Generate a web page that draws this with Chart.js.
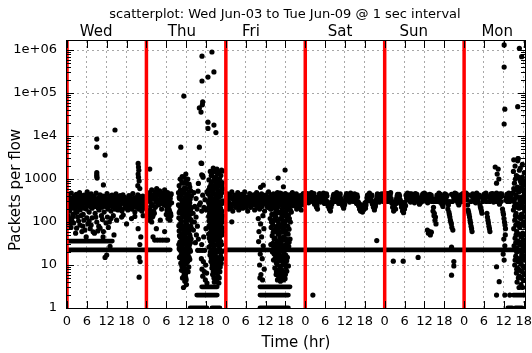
<!DOCTYPE html>
<html>
<head>
<meta charset="utf-8">
<script src="https://cdn.jsdelivr.net/npm/chart.js@4.4.1/dist/chart.umd.min.js"></script>
<style>
html,body{margin:0;padding:0;background:#fff;}
#wrap{width:532px;height:353px;}
</style>
</head>
<body>
<div id="wrap"><canvas id="c" width="532" height="353"></canvas></div>
<script>
// ---------------- DATA (hours since Wed 00:00, packets per flow) ----------------
const titleText = 'scatterplot: Wed Jun-03 to Tue Jun-09 @ 1 sec interval';
const dayNames = ['Wed', 'Thu', 'Fri', 'Sat', 'Sun', 'Mon'];
const dayStartHours = [0, 24, 48, 72, 96, 120];
const dayLabelHours = [8.8, 34.7, 55.6, 82.5, 104.8, 130];
const xTickHours = [0,6,12,18,24,30,36,42,48,54,60,66,72,78,84,90,96,102,108,114,120,126,132,138];
const xTickLabels = ['0','6','12','18','0','6','12','18','0','6','12','18','0','6','12','18','0','6','12','18','0','6','12','18'];
const yTickValues = [1, 10, 100, 1000, 10000, 100000, 1000000];
const yTickLabels = ['1', '10', '100', '1000', '1e4', '1e+05', '1e+06'];
const xMin = 0, xMax = 138.4, yMin = 1, yMax = 1.62e6;

// dense horizontal runs of points (drawn as solid runs)
const runs = [
  [[0,22.5],[31.2,22.5]],
  [[47.9,22.5],[138.4,22.5]],
  [[0,36],[13.7,36]],
  [[40.7,3.1],[45.4,3.1]],
  [[39.2,2.0],[45.4,2.0]],
  [[58.3,3.1],[67.4,3.1]],
  [[58.3,2.0],[66.9,2.0]],
  [[134.8,2.0],[138.4,2.0]],
  [[37.2,1],[42.3,1]],
  [[43.8,1],[46.2,1]],
  [[58.3,1],[66.9,1]],
  [[133.2,1],[134.5,1]],
  [[135.5,1],[137.5,1]]
];

const wedBand = [[0.3,420],[0.5,260],[0.8,180],[1.0,330],[1.3,470],[1.5,220],[1.8,150],[2.0,380],[2.2,290],[2.5,200],[2.8,440],[3.0,170],[3.3,320],[3.5,250],[3.8,480],[4.0,190],[4.3,360],[4.6,230],[4.9,150],[5.2,420],[5.5,280],[5.8,200],[6.1,500],[6.4,340],[6.7,170],[7.0,260],[7.3,450],[7.6,210],[7.9,380],[8.2,300],[8.5,160],[8.8,470],[9.1,240],[9.4,350],[9.7,190],[10.0,430],[10.3,280],[10.6,220],[10.9,400],[11.2,170],[11.5,330],[11.8,260],[12.1,460],[12.4,200],[12.7,360],[13.0,290],[13.3,180],[13.6,420],[13.9,240],[14.2,330],[14.5,200],[14.8,450],[15.1,280],[15.4,190],[15.7,390],[16.0,250],[16.3,320],[16.6,180],[16.9,430],[17.2,270],[17.5,210],[17.8,360],[18.1,300],[18.4,190],[18.7,410],[19.0,240],[19.3,330],[19.6,200],[19.9,460],[20.2,280],[20.5,170],[20.8,370],[21.1,250],[21.4,430],[21.7,200],[22.0,320],[22.3,270],[22.6,180],[22.9,400],[23.2,240],[23.5,350],[23.8,210]];
const wedBand2 = [[0.15,300],[0.45,380],[0.75,240],[1.05,200],[1.35,350],[1.65,280],[1.95,230],[2.25,400],[2.55,320],[2.85,260],[3.15,220],[3.45,380],[3.75,300],[4.05,250],[4.35,410],[4.65,330],[4.95,270],[5.25,210],[5.55,360],[5.85,300],[6.15,240],[6.45,420],[6.75,280],[7.05,350],[7.35,220],[7.65,310],[7.95,260],[8.25,400],[8.55,230],[8.85,320],[9.15,280],[9.45,210],[9.75,380],[10.05,250],[10.35,340],[10.65,300],[10.95,230],[11.25,390],[11.55,270],[11.85,350],[12.15,220],[12.45,300],[12.75,250],[13.05,400],[13.35,330],[13.65,230],[13.95,290],[14.25,380],[14.55,260],[14.85,220],[15.15,350],[15.45,300],[15.75,240],[16.05,410],[16.35,200],[16.65,330],[16.95,280],[17.25,380],[17.55,240],[17.85,300],[18.15,220],[18.45,350],[18.75,260],[19.05,400],[19.35,210],[19.65,300],[19.95,240],[20.25,360],[20.55,290],[20.85,220],[21.15,330],[21.45,260],[21.75,400],[22.05,230],[22.35,350],[22.65,290],[22.95,210],[23.25,380],[23.55,260],[23.85,320]];
const wedLow = [[0.5,120],[1.2,75],[1.4,110],[2.0,95],[2.4,160],[2.6,55],[2.9,72],[3.2,130],[3.9,85],[4.5,60],[5.1,110],[5.4,65],[5.8,45],[6.3,90],[7.0,70],[7.6,125],[7.9,59],[8.3,55],[9.0,100],[9.6,80],[10.0,72],[10.4,140],[10.9,45],[11.0,60],[11.8,95],[12.5,75],[13.0,27],[13.3,120],[14.2,50],[15.0,110],[16.5,130],[18.0,90],[19.5,120],[21.5,70],[22.3,45],[22.0,30],[21.8,15],[22.1,12],[11.5,15],[21.8,5.2],[12.0,17],[0.3,140],[0.9,95],[1.7,130],[3.5,105],[4.2,140],[4.8,80],[6.0,125],[6.7,105],[7.3,85],[8.7,130],[9.3,62],[10.7,115],[12.2,130],[12.8,100],[14.0,140],[17.0,145],[20.5,135],[23.0,140]];
const wedHigh = [[14.5,13800],[9.0,8500],[9.0,5500],[11.5,3600],[9.0,1400],[9.0,1250],[9.0,1150],[9.1,1050],[11.0,730],[21.5,2300],[21.6,1900],[21.7,1600],[21.5,1300],[21.6,1100],[21.8,900],[21.4,700],[22.0,600]];
const thuEarly = [[24.7,320],[25.0,480],[25.3,230],[25.6,560],[25.9,380],[26.2,180],[26.5,500],[26.8,290],[27.1,600],[27.4,420],[27.7,250],[28.0,530],[28.3,350],[28.6,200],[28.9,470],[29.2,300],[29.5,560],[29.8,400],[30.1,230],[30.4,480],[30.7,330],[31.0,180],[31.3,420],[31.6,280],[24.8,150],[25.2,120],[25.6,100],[26.0,140],[26.4,160],[30.0,150],[30.5,120],[30.9,130],[31.3,160],[28.2,110],[27.0,70],[29.5,60],[26.5,38],[27.3,38],[28.1,38],[28.9,38],[29.7,38],[30.4,38],[25.0,1700],[26.0,45]];
const thuEarly2 = [[24.9,380],[25.2,290],[25.5,420],[25.8,250],[26.1,350],[26.4,420],[26.7,220],[27.0,360],[27.3,280],[27.6,470],[27.9,320],[28.2,430],[28.5,270],[28.8,380],[29.1,450],[29.4,250],[29.7,330],[30.0,420],[30.3,280],[30.6,400],[30.9,250],[31.2,350],[31.5,450],[25.1,190],[25.4,170],[25.8,130],[30.2,190],[30.8,200],[31.1,110],[31.4,140],[24.9,110]];
const thuCol1 = [[34.8,1130],[35.9,1300],[36.5,1000],[33.9,700],[34.7,850],[35.5,620],[36.3,780],[37.1,650],[33.7,480],[34.5,420],[35.3,540],[36.1,450],[36.9,510],[37.6,400],[34.0,350],[34.8,300],[35.6,370],[36.4,290],[37.2,340],[33.7,250],[34.5,220],[35.3,260],[36.1,205],[36.9,240],[37.6,215],[34.1,180],[34.9,150],[35.7,170],[36.5,145],[37.3,185],[33.8,125],[34.6,105],[35.4,130],[36.2,110],[37.0,120],[37.7,100],[34.2,88],[35.0,75],[35.8,85],[36.6,72],[37.4,80],[33.9,62],[34.7,52],[35.5,60],[36.3,55],[37.1,50],[34.3,44],[35.1,38],[35.9,42],[36.7,36],[37.5,40],[33.8,30],[34.6,27],[35.4,31],[36.2,26],[37.0,29],[34.2,22],[35.0,19],[35.8,22],[36.6,18],[37.3,21],[34.0,15],[34.8,13],[35.6,16],[36.4,14],[37.1,13.5],[34.4,11],[35.2,9.5],[36.0,10.5],[36.8,9],[34.6,7.5],[35.4,6.5],[36.2,7.8],[35.8,6],[34.9,5],[35.6,4.2],[36.1,3.5],[35.2,3]];
const thuCol1b = [[34.2,1000],[35.1,800],[36.0,900],[36.9,760],[34.3,560],[35.1,470],[35.9,600],[36.7,420],[37.4,530],[33.9,380],[34.7,330],[35.5,300],[36.3,360],[37.1,280],[34.1,230],[34.9,270],[35.7,215],[36.5,250],[37.3,200],[33.9,165],[34.7,190],[35.5,155],[36.3,175],[37.1,150],[37.6,160],[34.3,115],[35.1,140],[35.9,105],[36.7,130],[37.5,112],[34.5,95],[35.3,80],[36.1,92],[36.9,78],[33.8,82],[34.4,68],[35.2,56],[36.0,66],[36.8,58],[37.6,70],[34.0,48],[34.8,40],[35.6,47],[36.4,41],[37.2,45],[34.1,34],[34.9,31],[35.7,35],[36.5,29],[37.3,33],[33.9,24],[34.7,20],[35.5,24],[36.3,20],[37.1,23],[34.5,17],[35.3,14],[36.1,17.5],[36.9,15],[34.9,12],[35.7,11.5],[36.5,12],[35.0,8.5],[35.8,8],[36.6,7],[35.3,5.5],[35.9,5],[34.7,9.5],[36.0,4.5]];
const thuMid = [[38.3,480],[39.0,350],[39.6,520],[40.3,280],[41.0,420],[41.7,330],[42.3,500],[38.6,230],[39.3,200],[40.0,250],[40.7,180],[41.4,220],[42.1,190],[38.1,160],[39.0,130],[38.5,100],[39.4,80],[38.2,65],[39.1,50],[39.7,40],[38.8,33],[40.2,22],[40.9,22],[41.6,22],[39.5,22],[40.6,14],[41.2,12],[41.9,10],[40.8,8],[41.5,7],[42.2,6.5],[41.0,5.5],[41.8,4.5],[42.3,3.8],[40.7,30],[41.3,45],[42.0,70],[40.7,1250],[39.7,790],[40.7,2300],[41.1,1100]];
const thuCol2 = [[43.3,1500],[44.7,1500],[46.7,1620],[45.5,1300],[42.9,950],[43.7,850],[44.5,1050],[45.3,900],[46.1,1000],[46.9,820],[43.1,650],[43.9,600],[44.7,700],[45.5,560],[46.3,680],[47.0,600],[42.7,450],[43.5,400],[44.3,480],[45.1,420],[45.9,380],[46.7,470],[43.0,320],[43.8,280],[44.6,340],[45.4,300],[46.2,260],[47.0,310],[42.8,220],[43.6,190],[44.4,240],[45.2,200],[46.0,230],[46.8,180],[43.1,160],[43.9,135],[44.7,150],[45.5,125],[46.3,155],[47.0,140],[42.9,105],[43.7,90],[44.5,110],[45.3,95],[46.1,85],[46.9,100],[43.2,75],[44.0,62],[44.8,72],[45.6,65],[46.4,78],[47.0,60],[42.8,52],[43.6,45],[44.4,55],[45.2,48],[46.0,42],[46.8,50],[43.3,36],[44.1,31],[44.9,38],[45.7,33],[46.5,35],[42.9,26],[43.7,22],[44.5,25],[45.3,20],[46.1,24],[46.9,21],[43.2,17],[44.0,15],[44.8,18],[45.6,14],[46.4,16],[43.5,12],[44.3,10.5],[45.1,12.5],[45.9,10],[46.6,11],[43.8,8.5],[44.6,7.5],[45.4,9],[46.2,7],[44.0,6],[44.8,5],[45.6,5.5],[45.2,4.5],[44.5,4],[45.9,3.8]];
const thuCol2b = [[43.6,1200],[44.2,1800],[45.0,1100],[45.9,1400],[46.5,1200],[43.5,750],[44.3,900],[45.1,780],[45.9,820],[46.7,700],[42.8,560],[43.6,520],[44.4,600],[45.2,640],[46.0,520],[46.8,560],[43.2,380],[44.0,440],[44.8,360],[45.6,460],[46.4,400],[42.8,280],[43.6,340],[44.4,290],[45.2,350],[46.0,300],[46.8,270],[43.2,240],[44.0,215],[44.8,200],[45.6,250],[46.4,210],[43.4,175],[44.2,170],[45.0,160],[45.8,180],[46.6,165],[42.8,135],[43.6,120],[44.4,125],[45.2,140],[46.0,130],[46.8,120],[43.3,95],[44.1,100],[44.9,88],[45.7,105],[46.5,92],[42.9,80],[43.7,68],[44.5,80],[45.3,72],[46.1,66],[46.9,74],[43.4,58],[44.2,50],[45.0,60],[45.8,55],[46.6,58],[43.0,42],[43.8,38],[44.6,44],[45.4,40],[46.2,46],[43.5,29],[44.3,27],[45.1,30],[45.9,28],[46.7,30],[43.3,20],[44.1,19],[44.9,22],[45.7,21],[46.5,19.5],[43.6,14.5],[44.4,13.5],[45.2,15],[46.0,13],[46.8,14],[43.9,10],[44.7,9.5],[45.5,11],[46.3,9],[44.2,7],[45.0,6.5],[45.8,7.5],[44.4,5],[45.3,4],[46.0,5]];
const thuHigh = [[43.8,900000],[40.8,720000],[44.4,310000],[42.6,235000],[40.8,190000],[35.3,85000],[41.0,62000],[40.9,53000],[40.0,45000],[40.5,36000],[42.6,21000],[44.4,18000],[42.6,15000],[45.0,12000],[34.4,5500],[40.0,5500],[40.5,2350],[45.3,1700],[43.8,1450],[47.0,1530],[41.0,1200],[35.3,1100],[43.8,1250]];
const friBand = [[48.3,300],[48.6,450],[48.9,200],[49.2,380],[49.5,250],[49.8,500],[50.1,180],[50.4,340],[50.7,420],[51.0,220],[51.3,300],[51.6,480],[51.9,190],[52.2,360],[52.5,260],[52.8,440],[53.1,210],[53.4,320],[53.7,500],[54.0,240],[54.3,380],[54.6,180],[54.9,300],[55.2,460],[55.5,220],[55.8,350],[56.1,270],[56.4,430],[56.7,190],[57.0,330],[57.3,480],[57.6,240],[57.9,390],[58.2,200],[58.5,310],[58.8,450],[59.1,260],[59.4,370],[59.7,180],[60.0,420],[60.3,290],[60.6,220],[60.9,500],[61.2,340],[61.5,200],[61.8,400],[62.1,270],[62.4,450],[62.7,230],[63.0,360],[63.3,190],[63.6,480],[63.9,300],[64.2,250],[64.5,420],[64.8,330],[65.1,200],[65.4,390],[65.7,280],[66.0,460],[66.3,220],[66.6,350],[66.9,260],[67.2,430],[67.5,190],[67.8,320],[68.1,480],[68.4,240],[68.7,380],[69.0,300],[69.3,450],[69.6,220],[69.9,340],[70.2,260],[70.5,410],[70.8,190],[71.1,310],[71.4,460],[71.7,250]];
const friBand2 = [[48.15,380],[48.45,240],[48.75,330],[49.05,280],[49.35,420],[49.65,220],[49.95,350],[50.25,260],[50.55,300],[50.85,390],[51.15,240],[51.45,330],[51.75,270],[52.05,410],[52.35,230],[52.65,310],[52.95,360],[53.25,260],[53.55,400],[53.85,300],[54.15,220],[54.45,340],[54.75,260],[55.05,380],[55.35,300],[55.65,240],[55.95,410],[56.25,330],[56.55,250],[56.85,380],[57.15,280],[57.45,220],[57.75,320],[58.05,420],[58.35,260],[58.65,350],[58.95,230],[59.25,300],[59.55,400],[59.85,270],[60.15,340],[60.45,240],[60.75,380],[61.05,260],[61.35,320],[61.65,430],[61.95,230],[62.25,350],[62.55,280],[62.85,400],[63.15,250],[63.45,330],[63.75,230],[64.05,390],[64.35,300],[64.65,260],[64.95,410],[65.25,280],[65.55,340],[65.85,230],[66.15,370],[66.45,290],[66.75,410],[67.05,240],[67.35,300],[67.65,380],[67.95,250],[68.25,340],[68.55,280],[68.85,420],[69.15,240],[69.45,330],[69.75,270],[70.05,390],[70.35,230],[70.65,320],[70.95,400],[71.25,260],[71.55,350],[71.85,300]];
const friCluster = [[57.8,120],[58.5,90],[59.2,140],[58.0,60],[59.5,70],[58.8,45],[57.9,35],[59.3,28],[58.4,18],[59.0,14],[58.2,10],[59.6,8],[58.6,6],[59.1,4.5],[58.3,5],[61.5,400],[62.5,300],[63.5,450],[64.5,350],[65.5,280],[66.5,420],[67.5,330],[61.8,200],[62.8,160],[63.8,230],[64.8,180],[65.8,140],[66.8,210],[67.8,170],[61.4,120],[62.2,100],[63.1,130],[64.0,90],[64.9,115],[65.8,95],[66.7,125],[67.5,100],[61.7,75],[62.6,65],[63.5,80],[64.4,60],[65.3,70],[66.2,55],[67.1,68],[62.0,48],[62.9,42],[63.8,52],[64.7,38],[65.6,45],[66.5,35],[67.4,40],[61.6,30],[62.5,26],[63.4,32],[64.3,28],[65.2,24],[66.1,30],[67.0,27],[62.1,20],[63.0,17],[63.9,19],[64.8,16],[65.7,18],[66.6,15],[62.4,13],[63.3,11],[64.2,12.5],[65.1,10],[66.0,11.5],[66.9,9.5],[62.8,8.5],[63.7,7.5],[64.6,8],[65.5,6.8],[66.4,7.2],[63.2,6],[64.1,5.2],[65.0,5.6],[65.9,4.8],[64.5,4.2],[63.6,4.5],[58.5,640],[59.3,720],[63.8,1050],[65.9,1620],[65.4,660],[64.4,470],[69.4,200],[49.8,101]];
const friCluster2 = [[61.9,350],[62.9,400],[63.9,320],[64.9,450],[65.9,380],[66.9,300],[62.3,250],[63.3,200],[64.3,260],[65.3,220],[66.3,180],[67.3,240],[61.9,150],[62.9,140],[63.9,165],[64.9,150],[65.9,170],[66.9,145],[61.8,100],[62.7,115],[63.6,105],[64.5,120],[65.4,100],[66.3,110],[67.2,120],[62.2,85],[63.1,70],[64.0,75],[64.9,85],[65.8,78],[66.7,80],[62.3,58],[63.2,60],[64.1,55],[65.0,58],[65.9,62],[66.8,52],[62.6,40],[63.5,36],[64.4,44],[65.3,38],[66.2,40],[67.1,34],[62.2,32],[63.0,28],[63.9,24],[64.7,32],[65.6,28],[66.5,24],[62.6,18],[63.5,21],[64.3,17],[65.2,21],[66.1,17],[62.9,14],[63.8,15],[64.7,13],[65.6,14],[66.4,12.5],[63.6,10],[64.4,9],[65.3,12],[66.2,9],[63.3,7],[64.2,6.5],[65.1,7.5],[66.0,6],[64.0,4.8],[64.8,5],[65.4,4.5]];
const satBand = [[72.4,350],[72.7,460],[73.0,280],[73.3,410],[73.6,330],[73.9,480],[74.2,300],[74.5,420],[74.8,260],[75.1,380],[75.4,220],[75.7,200],[76.0,340],[76.3,460],[76.6,290],[76.9,400],[77.2,320],[77.5,470],[77.8,270],[78.1,380],[78.4,450],[78.7,300],[79.0,230],[79.3,200],[79.6,180],[80.0,260],[80.3,350],[80.6,440],[80.9,300],[81.2,400],[81.5,480],[81.8,330],[82.1,270],[82.4,420],[82.7,360],[83.0,300],[83.3,240],[83.6,210],[83.9,260],[84.2,380],[84.5,460],[84.8,320],[85.1,410],[85.4,290],[85.7,470],[86.0,350],[86.3,400],[86.6,300],[86.9,450],[87.2,330],[87.5,270],[87.8,380],[88.1,240],[88.4,200],[88.7,180],[89.0,220],[89.3,170],[89.6,190],[89.9,250],[90.2,210],[90.5,300],[90.8,420],[91.1,350],[91.4,470],[91.7,310],[92.0,400],[92.3,260],[92.6,220],[92.9,190],[93.2,240],[93.5,330],[93.8,450],[94.1,380],[94.4,290],[94.7,440],[95.0,340],[95.3,400],[95.6,300],[95.9,460]];
const satBand2 = [[72.25,300],[72.55,400],[72.85,350],[73.15,300],[73.45,440],[73.75,360],[74.05,400],[74.35,330],[74.65,460],[74.95,320],[75.25,280],[75.55,240],[75.85,300],[76.15,400],[76.45,350],[76.75,440],[77.05,370],[77.35,300],[77.65,420],[77.95,340],[78.25,300],[78.55,400],[78.85,260],[79.15,230],[79.45,240],[79.75,220],[80.15,300],[80.45,400],[80.75,360],[81.05,440],[81.35,350],[81.65,400],[81.95,300],[82.25,360],[82.55,450],[82.85,330],[83.15,280],[83.45,260],[83.75,240],[84.05,320],[84.35,420],[84.65,380],[84.95,440],[85.25,350],[85.55,400],[85.85,320],[86.15,440],[86.45,350],[86.75,390],[87.05,420],[87.35,300],[87.65,430],[87.95,300],[88.25,270],[88.55,230],[88.85,250],[89.15,200],[89.45,230],[89.75,210],[90.05,280],[90.35,250],[90.65,360],[90.95,400],[91.25,440],[91.55,380],[91.85,350],[92.15,420],[92.45,300],[92.75,260],[93.05,220],[93.35,280],[93.65,380],[93.95,420],[94.25,330],[94.55,400],[94.85,380],[95.15,450],[95.45,360],[95.75,420]];
const sunBand = [[96.3,380],[96.6,460],[96.9,300],[97.2,420],[97.5,340],[97.8,480],[98.1,280],[98.4,220],[98.7,180],[99.0,250],[99.3,200],[99.6,350],[99.9,440],[100.2,310],[100.5,400],[100.8,270],[101.1,220],[101.4,180],[101.7,165],[102.0,200],[102.3,240],[102.6,360],[102.9,470],[103.2,330],[103.5,410],[103.8,290],[104.1,450],[104.4,350],[104.7,400],[105.0,280],[105.3,460],[105.6,330],[105.9,380],[106.2,300],[106.5,260],[106.8,280],[107.1,320],[107.4,420],[107.7,350],[108.0,470],[108.3,310],[108.6,400],[108.9,65],[109.2,55],[109.5,60],[109.8,50],[110.1,58],[109.0,280],[109.6,440],[110.2,360],[110.6,180],[110.9,140],[111.2,110],[111.5,90],[111.1,300],[111.8,420],[112.1,330],[112.4,470],[112.7,290],[113.0,380],[113.3,260],[113.6,230],[113.9,300],[114.2,450],[114.5,350],[114.8,400],[115.1,200],[115.4,170],[115.7,130],[116.0,100],[116.3,75],[116.6,65],[115.6,300],[116.2,440],[116.9,360],[117.2,470],[117.5,320],[117.8,400],[118.1,280],[118.4,250],[118.7,300],[119.0,430],[119.3,350],[119.6,460],[119.9,330]];
const sunBand2 = [[96.15,320],[96.45,400],[96.75,360],[97.05,460],[97.35,380],[97.65,420],[97.95,350],[98.25,300],[98.55,250],[98.85,210],[99.15,300],[99.45,270],[99.75,400],[100.05,360],[100.35,440],[100.65,330],[100.95,300],[101.25,240],[101.55,200],[101.85,230],[102.15,290],[102.45,420],[102.75,380],[103.05,440],[103.35,360],[103.65,450],[103.95,380],[104.25,420],[104.55,300],[104.85,440],[105.15,360],[105.45,400],[105.75,440],[106.05,340],[106.35,300],[106.65,320],[106.95,370],[107.25,300],[107.55,450],[107.85,400],[108.15,380],[108.45,440],[108.75,330],[109.05,400],[109.35,300],[109.75,350],[110.05,420],[110.35,300],[110.75,220],[111.0,160],[111.35,130],[111.65,360],[111.95,300],[112.25,400],[112.55,370],[112.85,440],[113.15,330],[113.45,300],[113.75,270],[114.05,360],[114.35,400],[114.65,430],[114.95,300],[115.25,250],[115.55,150],[115.85,110],[116.15,90],[116.45,300],[116.75,400],[117.05,420],[117.35,380],[117.65,450],[117.95,350],[118.25,320],[118.55,280],[118.85,360],[119.15,400],[119.45,300],[119.75,420]];
const monBand = [[120.3,400],[120.6,470],[120.9,330],[121.2,190],[121.5,150],[121.8,110],[122.1,80],[122.4,60],[121.4,420],[122.0,300],[122.6,450],[122.9,350],[123.2,400],[123.5,280],[123.8,470],[124.1,340],[124.4,390],[124.8,250],[125.1,200],[125.4,160],[125.7,300],[126.0,440],[126.3,360],[126.6,470],[126.9,160],[127.2,110],[127.5,80],[127.8,60],[127.1,380],[127.7,300],[128.0,420],[128.3,330],[128.6,460],[128.9,290],[129.2,400],[129.5,350],[129.8,470],[130.1,300],[130.4,420],[130.7,260],[131.0,380],[131.3,450],[131.6,200],[131.9,150],[132.2,100],[132.5,70],[132.0,40],[132.3,28],[131.8,18],[132.1,13],[132.6,320],[132.9,440],[133.2,350],[133.5,470],[133.8,300],[134.1,400],[129.4,1900],[130.0,1300],[130.5,1000],[129.8,800],[129.8,9.1],[130.6,4.1],[129.8,2],[132.3,2],[133.8,2]];
const monBand2 = [[120.15,330],[120.45,400],[120.75,440],[121.05,250],[121.35,170],[121.65,130],[121.95,95],[122.25,70],[122.55,380],[122.85,420],[123.05,300],[123.35,440],[123.65,360],[123.95,400],[124.25,300],[124.55,420],[124.95,220],[125.25,180],[125.55,360],[125.85,400],[126.15,330],[126.45,410],[126.75,300],[127.05,130],[127.35,95],[127.65,70],[127.95,360],[128.15,450],[128.45,380],[128.75,410],[129.05,340],[129.35,440],[129.65,300],[129.95,400],[130.25,370],[130.55,330],[130.85,450],[131.15,300],[131.45,400],[131.75,170],[132.05,120],[132.35,85],[132.45,50],[132.8,380],[133.1,300],[133.4,400],[133.7,360],[134.0,450],[134.3,330]];
const monCol = [[135.0,2800],[136.3,3000],[137.6,2200],[134.9,1500],[135.8,1200],[136.7,1600],[137.6,1100],[138.2,1400],[135.2,800],[136.1,650],[137.0,900],[137.9,700],[134.8,480],[135.6,420],[136.5,500],[137.4,380],[138.2,450],[135.1,300],[136.0,260],[136.9,320],[137.8,280],[134.9,190],[135.7,160],[136.6,210],[137.5,150],[138.3,180],[135.3,110],[136.2,95],[137.1,120],[138.0,100],[135.0,70],[135.9,60],[136.8,75],[137.7,55],[135.4,42],[136.3,36],[137.2,45],[138.1,38],[135.1,28],[136.0,25],[136.9,30],[137.8,26],[135.6,16],[136.5,14],[137.4,17],[138.2,13],[135.3,10],[136.2,8.5],[137.1,11],[138.0,9],[135.8,6.5],[136.7,5.5],[137.6,7],[136.0,4],[137.2,3.5],[137.9,4.5]];
const monCol2 = [[135.4,2000],[137.0,1800],[135.5,1000],[136.4,1100],[137.3,800],[138.2,900],[135.0,600],[136.0,550],[136.9,620],[137.8,560],[135.4,350],[136.3,380],[137.2,300],[138.1,340],[135.2,230],[136.1,220],[137.0,240],[137.9,220],[135.5,140],[136.4,130],[137.3,150],[138.2,130],[135.6,85],[136.5,85],[137.4,90],[138.3,80],[135.7,50],[136.6,52],[137.5,48],[138.3,50],[135.6,33],[136.5,32],[137.4,34],[138.3,30],[135.9,20],[136.8,21],[137.7,20],[135.4,13],[136.3,12],[137.2,14],[138.1,16],[135.9,8],[136.8,7.5],[137.7,9.5],[136.4,5],[137.3,5],[138.2,6],[136.6,3],[137.7,3]];
const monHigh = [[132.1,1310000],[136.7,1100000],[137.4,700000],[132.1,400000],[132.3,42000],[136.2,48000],[132.1,19000],[136.3,3000],[136.2,2650],[130.3,1700]];
const misc = [[74.3,2],[93.6,37],[98.6,12.3],[101.6,12.3],[106.1,15],[116.2,26],[116.9,12],[116.9,9.5],[116.2,5.8]];

const pointGroups = [wedBand, wedBand2, wedLow, wedHigh, thuEarly, thuEarly2, thuCol1, thuCol1b, thuMid, thuCol2, thuCol2b, thuHigh, friBand, friBand2, friCluster, friCluster2, satBand, satBand2, sunBand, sunBand2, monBand, monBand2, monCol, monCol2, monHigh, misc];

// ---------------- CHART ----------------
Chart.defaults.font.family = '"DejaVu Sans", sans-serif';
Chart.defaults.color = '#000';

const toXY = arr => arr.map(p => ({x: p[0], y: p[1]}));
const datasets = [];
pointGroups.forEach(g => datasets.push({
  data: toXY(g), showLine: false, pointRadius: 2.6, pointHoverRadius: 2.6,
  pointBackgroundColor: '#000', pointBorderWidth: 0, clip: 0, order: 1
}));
runs.forEach(r => datasets.push({
  data: toXY(r), showLine: true, borderColor: '#000', borderWidth: 4.8,
  borderCapStyle: 'round', pointRadius: 0, fill: false, clip: 0, order: 1
}));
dayStartHours.forEach(h => datasets.push({
  data: [{x: h, y: yMin}, {x: h, y: yMax}], showLine: true, borderColor: '#ff0000',
  borderWidth: 3.5, pointRadius: 0, fill: false, clip: 0, order: -1
}));

const gridColor = '#a8a8a8';

const framePlugin = {
  id: 'frame',
  afterDatasetsDraw(chart) {
    const {ctx, chartArea: a, scales: {x, y}} = chart;
    ctx.save();
    ctx.strokeStyle = '#000';
    ctx.lineWidth = 1;
    ctx.beginPath();
    xTickHours.forEach(h => {
      const px = Math.round(x.getPixelForValue(h)) + 0.5;
      ctx.moveTo(px, a.bottom); ctx.lineTo(px, a.bottom - 7);
      ctx.moveTo(px, a.top); ctx.lineTo(px, a.top + 7);
    });
    yTickValues.forEach(d => {
      for (let k = 1; k <= 9; k++) {
        const v = k * d;
        if (v > yMax) break;
        const py = Math.round(y.getPixelForValue(v)) + 0.5;
        const len = k === 1 ? 7 : 4;
        ctx.moveTo(a.left, py); ctx.lineTo(a.left + len, py);
        ctx.moveTo(a.right, py); ctx.lineTo(a.right - len, py);
      }
    });
    ctx.stroke();
    ctx.strokeRect(a.left - 0.5, a.top - 0.5, a.right - a.left + 1, a.bottom - a.top + 1);
    ctx.restore();
  },
  afterDraw(chart) {
    const {ctx, scales: {x}} = chart;
    ctx.save();
    ctx.fillStyle = '#000';
    ctx.textAlign = 'center';
    ctx.textBaseline = 'alphabetic';
    ctx.font = '13px "DejaVu Sans"';
    ctx.fillText(titleText, 285, 18);
    ctx.font = '15px "DejaVu Sans"';
    dayNames.forEach((d, i) => ctx.fillText(d, x.getPixelForValue(dayLabelHours[i]), 36));
    ctx.translate(20, 190);
    ctx.rotate(-Math.PI / 2);
    ctx.fillText('Packets per flow', 0, 0);
    ctx.restore();
  }
};

new Chart(document.getElementById('c'), {
  type: 'scatter',
  data: {datasets},
  options: {
    responsive: false,
    devicePixelRatio: 1,
    animation: false,
    events: [],
    layout: {padding: {left: 0, right: 7, top: 41, bottom: 0}},
    plugins: {legend: {display: false}, tooltip: {enabled: false}, title: {display: false}},
    scales: {
      x: {
        type: 'linear', min: xMin, max: xMax, bounds: 'data',
        afterBuildTicks: s => { s.ticks = xTickHours.map(v => ({value: v})); },
        ticks: {callback: (v, i) => xTickLabels[i], autoSkip: false, maxRotation: 0, minRotation: 0,
                font: {size: 13}, color: '#000', padding: 6},
        grid: {color: gridColor, lineWidth: 1, drawTicks: false},
        border: {display: false, dash: [2, 3]},
        title: {display: true, text: 'Time (hr)', font: {size: 15}, color: '#000', padding: {top: 0, bottom: 1}},
        afterFit: s => { s.height = 45; s.paddingLeft = 0; s.paddingRight = 0; }
      },
      y: {
        type: 'logarithmic', min: yMin, max: yMax, bounds: 'data',
        afterBuildTicks: s => { s.ticks = yTickValues.map(v => ({value: v, major: true})); },
        ticks: {callback: (v, i) => yTickLabels[i], autoSkip: false, font: {size: 13}, color: '#000', padding: 10},
        grid: {color: gridColor, lineWidth: 1, drawTicks: false},
        border: {display: false, dash: [2, 3]},
        afterFit: s => { s.width = 67; s.paddingTop = 0; s.paddingBottom = 0; }
      }
    }
  },
  plugins: [framePlugin]
});
</script>
</body>
</html>
